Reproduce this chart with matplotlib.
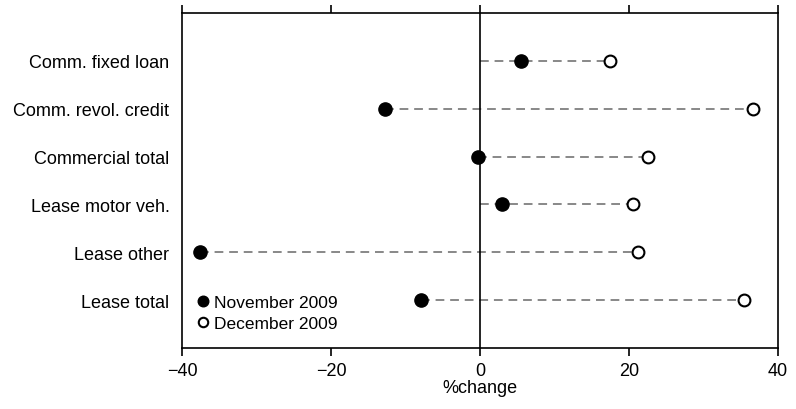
import matplotlib.pyplot as plt

plt.rcParams['font.family'] = ['Liberation Sans', 'DejaVu Sans']

# data
categories = ["Comm. fixed loan", "Comm. revol. credit", "Commercial total",
              "Lease motor veh.", "Lease other", "Lease total"]
nov_2009 = [5.5, -12.8, -0.2, 3.0, -37.6, -7.9]
dec_2009 = [17.5, 36.7, 22.6, 20.5, 21.2, 35.4]

fig = plt.figure(figsize=(7.96, 4.10), dpi=100)
ax = fig.add_axes([0.2286, 0.1488, 0.9774 - 0.2286, 0.9659 - 0.1488])

ypos = list(range(len(categories), 0, -1))

for y, a, b in zip(ypos, nov_2009, dec_2009):
    lo = min(0, a, b)
    hi = max(0, a, b)
    ax.plot([lo, hi], [y, y], ls=(0, (4.5, 3)), color='#888888', lw=1.4, zorder=1)

ax.axvline(0, color='black', lw=1.2, zorder=2)

ax.plot(nov_2009, ypos, 'o', ms=9.5, color='black', ls='none',
        label='November 2009', zorder=3)
ax.plot(dec_2009, ypos, 'o', ms=8.5, mfc='white', mec='black', mew=1.5,
        ls='none', label='December 2009', zorder=3)

ax.set_xlim(-40, 40)
ax.set_ylim(0, 7)
ax.set_xticks([-40, -20, 0, 20, 40])
ax.set_yticks(ypos)
ax.set_yticklabels(categories, fontsize=13)
ax.tick_params(axis='y', length=0, pad=9)
ax.tick_params(axis='x', direction='out', length=6, width=1.2, labelsize=13,
               pad=4, top=True, labeltop=False)
for s in ax.spines.values():
    s.set_linewidth(1.2)
ax.set_xlabel('%change', fontsize=13, labelpad=0)

ax.legend(loc='lower left', frameon=False, fontsize=12.5, handletextpad=0.15,
          handlelength=1.0, labelspacing=0.35, borderaxespad=0.3,
          bbox_to_anchor=(0.0, 0.015), markerscale=0.8)

fig.savefig('out.png', dpi=100)
